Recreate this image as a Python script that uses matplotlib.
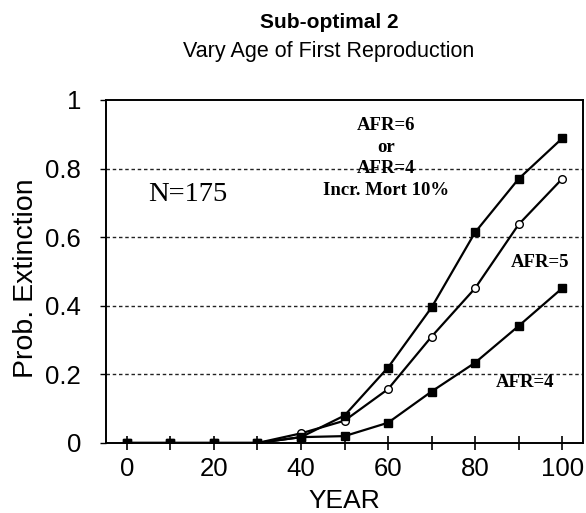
import matplotlib
matplotlib.use("Agg")
import matplotlib.pyplot as plt

# values
years = [0, 10, 20, 30, 40, 50, 60, 70, 80, 90, 100]
afr6 = [0, 0, 0, 0, 0.017, 0.08, 0.22, 0.395, 0.614, 0.77, 0.888]
afr5 = [0, 0, 0, 0, 0.028, 0.065, 0.157, 0.31, 0.451, 0.637, 0.77]
afr4 = [0, 0, 0, 0, 0.017, 0.02, 0.059, 0.15, 0.234, 0.341, 0.451]
yticks = [0, 0.2, 0.4, 0.6, 0.8, 1]
ytick_labels = ["0", "0.2", "0.4", "0.6", "0.8", "1"]
xticks = [0, 20, 40, 60, 80, 100]

sans = "Liberation Sans"
serif = "Liberation Serif"

fig = plt.figure(figsize=(5.86, 5.13), dpi=100)
ax = fig.add_axes([0.1809, 0.1365, 0.8140, 0.6686])

ax.plot(years, afr4, "-", color="black", lw=1.6, marker="s", ms=5.5, mfc="black", mec="black", zorder=3)
ax.plot(years, afr5, "-", color="black", lw=1.6, marker="o", ms=5.5, mfc="white", mec="black", zorder=4)
ax.plot(years, afr6, "-", color="black", lw=1.6, marker="s", ms=6, mfc="black", mec="black", zorder=5)

ax.set_xlim(-4.8, 104.8)
ax.set_ylim(0, 1)

for y in yticks[1:-1]:
    ax.axhline(y, color="#222222", lw=1.0, ls=(0, (2.5, 2.0)), zorder=1)

ax.set_xticks(xticks)
ax.set_xticks(years, minor=True)
ax.set_xticklabels([str(x) for x in xticks], fontfamily=sans, fontsize=18.5)
ax.set_yticks(yticks)
ax.set_yticklabels(ytick_labels, fontfamily=sans, fontsize=18.5)
ax.tick_params(axis="x", which="both", direction="inout", length=10, width=1.2, pad=5)
ax.tick_params(axis="y", direction="out", length=4, width=1.0, pad=14)

for side in ["left", "right", "top", "bottom"]:
    ax.spines[side].set_linewidth(1.4)
    ax.spines[side].set_color("black")

ax.set_xlabel("YEAR", fontfamily=sans, fontsize=19, labelpad=6)
ax.set_ylabel("Prob. Extinction", fontfamily=sans, fontsize=20.5, labelpad=4)
ax.yaxis.set_label_coords(-0.14, 0.48)

ax.text(14, 0.723, "N=175", fontfamily=serif, fontsize=20.5, ha="center", va="center")
ax.text(59.5, 0.95, "AFR=6\nor\nAFR=4\nIncr. Mort 10%", fontfamily=serif, fontweight="bold",
        fontsize=13.5, ha="center", va="top", linespacing=1.35)
ax.text(95, 0.525, "AFR=5", fontfamily=serif, fontweight="bold", fontsize=13.5, ha="center", va="center")
ax.text(91.5, 0.175, "AFR=4", fontfamily=serif, fontweight="bold", fontsize=13.5, ha="center", va="center")

fig.text(329 / 586, 1 - 22 / 513, "Sub-optimal 2", fontfamily=sans, fontweight="bold",
         fontsize=15, ha="center", va="center")
fig.text(329 / 586, 1 - 52 / 513, "Vary Age of First Reproduction", fontfamily=sans,
         fontsize=15.5, ha="center", va="center")

fig.savefig("out.png", dpi=100)
